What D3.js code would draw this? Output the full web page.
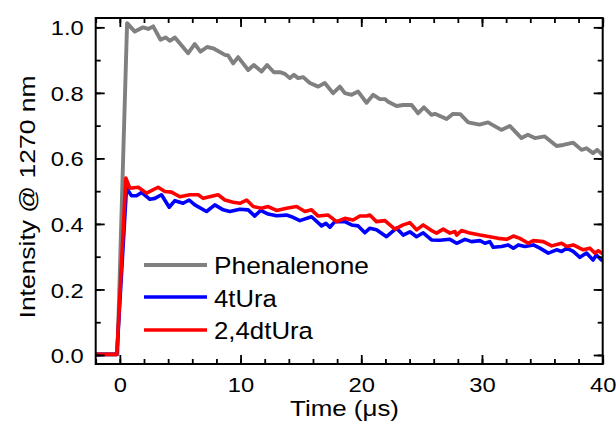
<!DOCTYPE html>
<html>
<head>
<meta charset="utf-8">
<script src="https://cdn.jsdelivr.net/npm/d3@7"></script>
<style>
  html, body { margin: 0; padding: 0; background: #fff; }
  svg { display: block; }
  text { font-family: "Liberation Sans", Arial, sans-serif; fill: #000; }
</style>
</head>
<body>
<svg id="chart" width="616" height="423"></svg>
<script>
// ---- Data ----
const seriesNames = ["Phenalenone", "4tUra", "2,4dtUra"];
const seriesColors = ["#808080", "#0000ff", "#ff0000"];

const phenT = [-2, -0.2, 0.6, 1.24, 1.93, 2.35, 2.76, 3.37, 3.8, 4.14, 4.56, 5.66, 6.2, 6.68, 7.23, 7.73, 8.7, 8.97, 9.39, 9.8, 10.63, 11.1, 11.74, 12.2, 12.76, 13.26, 13.67, 14.08, 14.42, 14.77, 15.19, 15.74, 16.43, 16.98, 17.67, 18.23, 18.64, 19.2, 19.74, 20.44, 20.99, 21.54, 21.96, 22.23, 22.92, 23.47, 24.17, 24.71, 25.19, 25.82, 26.1, 27.07, 27.6, 28.2, 28.86, 29.27, 29.8, 30.5, 31.6, 32.3, 33.27, 33.8, 34.38, 35.2, 36.18, 36.73, 37.56, 38.25, 38.66, 39.2, 39.55, 39.9, 40];
const phenV = [0.002, 0.002, 1.013, 0.987, 1.0, 0.995, 1.003, 0.962, 0.969, 0.959, 0.969, 0.921, 0.949, 0.926, 0.94, 0.936, 0.916, 0.914, 0.89, 0.909, 0.87, 0.885, 0.865, 0.885, 0.863, 0.863, 0.858, 0.845, 0.855, 0.845, 0.848, 0.83, 0.819, 0.83, 0.799, 0.819, 0.799, 0.794, 0.804, 0.77, 0.794, 0.781, 0.781, 0.773, 0.76, 0.763, 0.763, 0.738, 0.756, 0.733, 0.736, 0.72, 0.736, 0.735, 0.71, 0.707, 0.703, 0.71, 0.687, 0.699, 0.662, 0.672, 0.662, 0.667, 0.638, 0.641, 0.648, 0.626, 0.631, 0.616, 0.626, 0.614, 0.61];

const tuT = [-2, -0.25, 0.55, 0.97, 1.38, 1.8, 2.49, 2.9, 3.45, 4.09, 4.56, 5.24, 5.74, 6.21, 7.18, 7.87, 8.56, 9.11, 9.94, 10.63, 11.18, 11.66, 12.29, 12.98, 13.81, 14.22, 14.91, 15.88, 16.71, 17.07, 17.4, 17.81, 18.64, 19.2, 19.74, 20.3, 20.71, 21.26, 22.09, 22.92, 23.47, 24.03, 24.58, 25.13, 25.82, 26.51, 27.34, 27.9, 28.59, 29.14, 29.83, 30.24, 30.65, 30.93, 31.62, 32.17, 32.6, 33.01, 33.56, 34.25, 34.8, 35.49, 36.18, 36.6, 37.01, 37.56, 38.11, 38.66, 39.2, 39.48, 39.9, 40];
const tuV = [0.002, 0.002, 0.509, 0.486, 0.486, 0.496, 0.475, 0.478, 0.489, 0.451, 0.471, 0.463, 0.473, 0.458, 0.438, 0.458, 0.443, 0.438, 0.445, 0.443, 0.424, 0.441, 0.43, 0.425, 0.427, 0.422, 0.41, 0.422, 0.394, 0.402, 0.39, 0.407, 0.407, 0.397, 0.394, 0.373, 0.387, 0.382, 0.361, 0.387, 0.366, 0.376, 0.361, 0.373, 0.351, 0.35, 0.353, 0.341, 0.353, 0.346, 0.349, 0.341, 0.346, 0.329, 0.331, 0.336, 0.326, 0.336, 0.331, 0.336, 0.326, 0.311, 0.321, 0.316, 0.326, 0.316, 0.298, 0.311, 0.29, 0.305, 0.29, 0.288];

const dtuT = [-2, -0.25, 0.5, 0.83, 1.52, 2.21, 3.17, 3.73, 4.28, 4.97, 5.8, 6.49, 6.9, 8.14, 8.7, 9.39, 9.94, 10.5, 11.05, 11.74, 12.29, 12.98, 13.81, 14.64, 15.33, 15.88, 16.43, 17.26, 17.95, 18.64, 19.33, 19.88, 20.44, 20.71, 21.26, 21.96, 22.78, 23.47, 24.03, 24.58, 25.13, 25.95, 26.24, 26.79, 27.34, 27.76, 27.9, 28.31, 29.0, 29.83, 30.65, 31.34, 32.04, 32.6, 33.14, 33.83, 34.25, 35.08, 35.77, 36.6, 37.01, 37.56, 38.39, 38.94, 39.36, 39.63, 39.9, 40];
const dtuV = [0.002, 0.002, 0.54, 0.509, 0.512, 0.494, 0.512, 0.499, 0.497, 0.483, 0.489, 0.489, 0.478, 0.489, 0.473, 0.466, 0.463, 0.473, 0.453, 0.448, 0.453, 0.441, 0.448, 0.453, 0.438, 0.443, 0.424, 0.427, 0.407, 0.417, 0.412, 0.424, 0.424, 0.427, 0.407, 0.41, 0.384, 0.397, 0.404, 0.382, 0.397, 0.377, 0.372, 0.384, 0.372, 0.377, 0.366, 0.38, 0.372, 0.366, 0.361, 0.356, 0.353, 0.363, 0.356, 0.341, 0.349, 0.346, 0.333, 0.341, 0.331, 0.336, 0.321, 0.326, 0.311, 0.318, 0.311, 0.31];

const xTicks = [0, 10, 20, 30, 40];
const xMinorTicks = d3.range(-2, 40.01, 2);
const yTicks = [0.0, 0.2, 0.4, 0.6, 0.8, 1.0];
const yMinorTicks = d3.range(0, 1.01, 0.1);
const xTitle = "Time (\u03bcs)";
const yTitle = "Intensity @ 1270 nm";

// ---- Layout ----
const svg = d3.select("#chart");
const L = 95.7, R = 602.7, T = 18, B = 364;
const x = d3.scaleLinear().domain([-2, 40]).range([L, R]);
const y = d3.scaleLinear().domain([-0.0275, 1.0285]).range([B, T]);

// stretch a text horizontally so that it spans the width seen in the reference
function fit(sel, px, py, target, rot) {
  const w = sel.node().getComputedTextLength();
  const s = w > 0 ? target / w : 1;
  sel.attr("transform", `translate(${px},${py})${rot ? " rotate(" + rot + ")" : ""} scale(${s},1)`);
}

const series = [
  { name: seriesNames[0], color: seriesColors[0], t: phenT, v: phenV, w: 3.9, lw: 155 },
  { name: seriesNames[1], color: seriesColors[1], t: tuT, v: tuV, w: 3.6, lw: 62.7 },
  { name: seriesNames[2], color: seriesColors[2], t: dtuT, v: dtuV, w: 3.6, lw: 99 }
];

svg.append("clipPath").attr("id", "plotclip")
  .append("rect").attr("x", L).attr("y", T).attr("width", R - L).attr("height", B - T);

const line = d3.line().x(d => x(d[0])).y(d => y(d[1]));
const gLines = svg.append("g").attr("clip-path", "url(#plotclip)");
series.forEach(s => {
  const pts = s.t.map((t, i) => [t, s.v[i]]);
  gLines.append("path").datum(pts)
    .attr("d", line)
    .attr("fill", "none")
    .attr("stroke", s.color)
    .attr("stroke-width", s.w)
    .attr("stroke-linejoin", "round")
    .attr("stroke-linecap", "round");
});

// ---- Axes ----
function styleAxis(g) {
  g.select(".domain").remove();
  g.selectAll(".tick line").attr("stroke", "#000").attr("stroke-width", 1.8);
}
const majorLen = 9, minorLen = 5;

// bottom
svg.append("g").attr("transform", `translate(0,${B})`)
  .call(d3.axisBottom(x).tickValues(xMinorTicks).tickSize(-minorLen).tickFormat(""))
  .call(styleAxis);
const gxb = svg.append("g").attr("transform", `translate(0,${B})`)
  .call(d3.axisBottom(x).tickValues(xTicks).tickSize(-majorLen).tickFormat(d3.format("d")))
  .call(styleAxis);
gxb.selectAll(".tick text")
  .attr("x", null).attr("y", null).attr("dy", null)
  .attr("font-size", 21).attr("fill", "#000")
  .each(function (d) {
    const target = String(d).length === 1 ? 13.2 : 26.4;
    fit(d3.select(this), 0, 28, target, 0);
  });
// top
svg.append("g").attr("transform", `translate(0,${T})`)
  .call(d3.axisTop(x).tickValues(xMinorTicks).tickSize(-minorLen).tickFormat(""))
  .call(styleAxis);
svg.append("g").attr("transform", `translate(0,${T})`)
  .call(d3.axisTop(x).tickValues(xTicks).tickSize(-majorLen).tickFormat(""))
  .call(styleAxis);
// left
svg.append("g").attr("transform", `translate(${L},0)`)
  .call(d3.axisLeft(y).tickValues(yMinorTicks).tickSize(-minorLen).tickFormat(""))
  .call(styleAxis);
const gyl = svg.append("g").attr("transform", `translate(${L},0)`)
  .call(d3.axisLeft(y).tickValues(yTicks).tickSize(-majorLen).tickFormat(d3.format(".1f")))
  .call(styleAxis);
gyl.selectAll(".tick text")
  .attr("x", null).attr("dy", "0.36em")
  .attr("font-size", 21).attr("fill", "#000")
  .each(function () { fit(d3.select(this), -12, 0, 33, 0); });
// right
svg.append("g").attr("transform", `translate(${R},0)`)
  .call(d3.axisRight(y).tickValues(yMinorTicks).tickSize(-minorLen).tickFormat(""))
  .call(styleAxis);
svg.append("g").attr("transform", `translate(${R},0)`)
  .call(d3.axisRight(y).tickValues(yTicks).tickSize(-majorLen).tickFormat(""))
  .call(styleAxis);

// frame
svg.append("rect").attr("x", L).attr("y", T).attr("width", R - L).attr("height", B - T)
  .attr("fill", "none").attr("stroke", "#000").attr("stroke-width", 2);

// titles
const xt = svg.append("text").attr("text-anchor", "middle").attr("font-size", 22.5).text(xTitle);
fit(xt, 344.5, 416, 109, 0);
const yt = svg.append("text").attr("text-anchor", "middle").attr("font-size", 22.5).text(yTitle);
fit(yt, 35, 197, 243, -90);

// legend
const legLineY = [265, 297, 330];
const legTextY = [274, 306.5, 339.3];
series.forEach((s, i) => {
  svg.append("line").attr("x1", 144).attr("x2", 207).attr("y1", legLineY[i]).attr("y2", legLineY[i])
    .attr("stroke", s.color).attr("stroke-width", s.w);
  const lt = svg.append("text").attr("font-size", 23.3).text(s.name);
  fit(lt, 214, legTextY[i], s.lw, 0);
});
</script>
</body>
</html>
